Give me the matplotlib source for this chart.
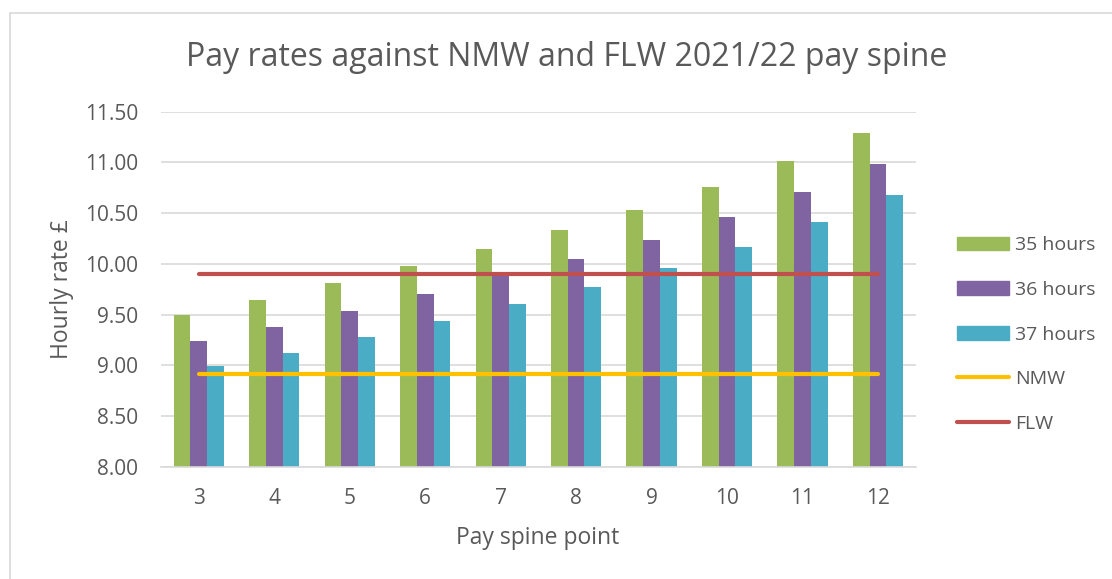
import numpy as np
import matplotlib.pyplot as plt
from matplotlib.patches import Rectangle, Patch
from matplotlib.lines import Line2D

plt.rcParams['font.family'] = ['Open Sans', 'DejaVu Sans']

points = [3, 4, 5, 6, 7, 8, 9, 10, 11, 12]
h35 = [9.50, 9.64, 9.81, 9.98, 10.15, 10.33, 10.53, 10.76, 11.01, 11.29]
h36 = [9.24, 9.38, 9.54, 9.70, 9.88, 10.05, 10.24, 10.46, 10.71, 10.98]
h37 = [8.99, 9.12, 9.28, 9.44, 9.60, 9.77, 9.96, 10.17, 10.41, 10.68]
nmw = [8.91] * len(points)
flw = [9.90] * len(points)

txt = "#595959"
grid = "#d9d9d9"

fig = plt.figure(figsize=(11.12, 5.79), dpi=100)
ax = fig.add_axes([0.1448, 0.194, 0.6787, 0.613])

x = np.arange(len(points))
w = 0.222
ax.bar(x - w, np.array(h35) - 8, w, bottom=8, color="#9BBB59", zorder=2)
ax.bar(x, np.array(h36) - 8, w, bottom=8, color="#8064A2", zorder=2)
ax.bar(x + w, np.array(h37) - 8, w, bottom=8, color="#4BACC6", zorder=2)
ax.plot(x, nmw, color="#FFC000", lw=3, solid_capstyle="round", zorder=3)
ax.plot(x, flw, color="#C0504D", lw=3, solid_capstyle="round", zorder=3)

ax.set_xlim(-0.5, len(points) - 0.5)
ax.set_ylim(8, 11.5)
yt = np.arange(8, 11.51, 0.5)
ax.set_yticks(yt)
ax.set_yticklabels([f"{v:.2f}" for v in yt])
ax.set_xticks(x)
ax.set_xticklabels([str(p) for p in points])
ax.tick_params(length=0, labelsize=15, colors=txt)
ax.tick_params(axis="y", pad=16.5)
ax.tick_params(axis="x", pad=15.5)
ax.grid(axis="y", color=grid, lw=1.2, zorder=0)
for s in ["top", "right", "left"]:
    ax.spines[s].set_visible(False)
ax.spines["bottom"].set_color(grid)
ax.spines["bottom"].set_linewidth(1.2)

fig.text(538 / 1112, 1 - 538 / 579, "Pay spine point", fontsize=16.5,
         color=txt, ha="center", va="center")
fig.text(62 / 1112, 1 - 289 / 579, "Hourly rate £", fontsize=16.5,
         color=txt, ha="center", va="center", rotation=90)
fig.text(567 / 1112, 1 - 58 / 579, "Pay rates against NMW and FLW 2021/22 pay spine",
         fontsize=23, color=txt, ha="center", va="center")

handles = [Patch(color="#9BBB59"), Patch(color="#8064A2"), Patch(color="#4BACC6"),
           Line2D([], [], color="#FFC000", lw=3, solid_capstyle="round"),
           Line2D([], [], color="#C0504D", lw=3, solid_capstyle="round")]
labels = ["35 hours", "36 hours", "37 hours", "NMW", "FLW"]
fig.legend(handles, labels, loc="upper left", bbox_to_anchor=(0.8446, 0.622),
           frameon=False, fontsize=14, labelcolor=txt, handlelength=2.68,
           handleheight=0.72, handletextpad=0.3, labelspacing=1.37)

fig.patches.append(Rectangle((10 / 1112, -0.05), 1.0, 1.05 - 12.7 / 579,
                             transform=fig.transFigure, fill=False,
                             edgecolor=grid, lw=1.2))

fig.savefig("out.png", dpi=100)
